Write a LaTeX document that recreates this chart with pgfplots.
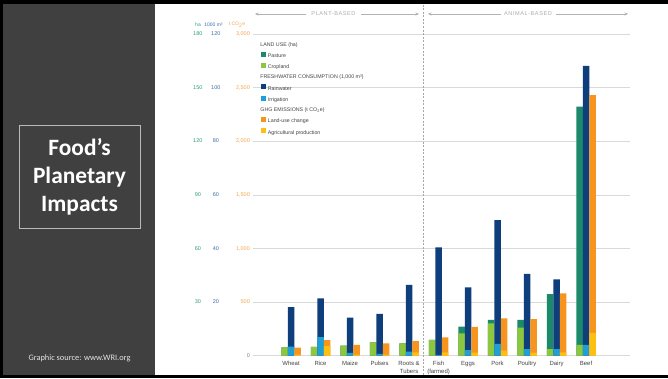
\documentclass[border=0pt]{standalone}
\usepackage{pgfplots}
\pgfplotsset{compat=1.18}
\usepackage{pgfplotstable}
\usepackage{fontspec}
\setmainfont{Liberation Sans}
\newfontfamily\carlito{Carlito}
\usetikzlibrary{arrows.meta}

\definecolor{pasture}{HTML}{1B8A6B}
\definecolor{cropland}{HTML}{8DC63F}
\definecolor{rainwater}{HTML}{0E3F7C}
\definecolor{irrigation}{HTML}{1E9FD6}
\definecolor{luc}{HTML}{F7941D}
\definecolor{agri}{HTML}{FDC010}
\definecolor{hacol}{HTML}{2E9E7E}
\definecolor{wcol}{HTML}{3A6EA5}
\definecolor{ccol}{HTML}{F5A54A}
\definecolor{panel}{HTML}{404040}
\definecolor{txt}{HTML}{444444}

% land use in ha, water in 1,000 m3, GHG in t CO2e
\pgfplotstableread{
x crop past irr rain agri luc
0 4.7 0 3.4 14.7 10 65
1 5.0 0 6.9 14.5 90 56
2 5.6 0 1.1 13.1 10 90
3 7.5 0 0.7 14.9 10 104
4 6.9 0 1.5 24.9 30 107
5 8.8 0 0.3 40.1 30 142
6 12.5 3.8 2.1 23.4 28 240
7 18.1 1.9 4.4 46.2 47 302
8 15.7 4.3 2.5 28.0 28 314
9 3.7 30.7 2.5 26.0 32 550
10 6.0 133.3 4.0 104.1 214 2217
}\data

\newcommand\tl[3]{\makebox[20bp][c]{\color{hacol}#1}\makebox[16bp][c]{\color{wcol}#2}\makebox[26bp][r]{\color{ccol}#3}}

\begin{document}
\begin{tikzpicture}[x=1bp,y=1bp]
\useasboundingbox (0,0) rectangle (668,378);
\fill[white] (0,0) rectangle (668,378);
\fill[panel] (3,3) rectangle (155,374);
\fill[black] (0,374) rectangle (668,378);
\fill[black] (0,0) rectangle (668,3);
\fill[black] (0,0) rectangle (3,378);
\draw[gray!55, line width=0.6bp] (19,253) rectangle (140,150);
\node[white, align=center, font=\carlito\bfseries\fontsize{23.5}{28}\selectfont] at (79.5,201.5) {Food’s\\Planetary\\Impacts};
\node[gray!20, font=\carlito\fontsize{8.4}{10}\selectfont] at (79.5,20) {Graphic source: www.WRI.org};

% header arrows
\begin{scope}[gray!60, line width=0.6bp]
\draw[-{Stealth[length=3.5bp,width=3bp]}] (306,364) -- (255,364);
\draw[-{Stealth[length=3.5bp,width=3bp]}] (361,364) -- (419,364);
\draw[-{Stealth[length=3.5bp,width=3bp]}] (501,364) -- (428,364);
\draw[-{Stealth[length=3.5bp,width=3bp]}] (556,364) -- (628,364);
\end{scope}
\node[gray!65, font=\addfontfeature{LetterSpace=10}\fontsize{5.6}{6}\selectfont] at (333.5,364) {PLANT-BASED};
\node[gray!65, font=\addfontfeature{LetterSpace=10}\fontsize{5.6}{6}\selectfont] at (528,364) {ANIMAL-BASED};

% unit header
\node[hacol, font=\fontsize{5}{6}\selectfont] at (198,353) {ha};
\node[wcol, font=\fontsize{5}{6}\selectfont] at (213.5,353) {1000 m³};
\node[ccol, font=\fontsize{5}{6}\selectfont] at (237,353) {t CO\textsubscript{2}e};

\begin{axis}[
  at={(253bp,22.3bp)}, anchor=south west,
  scale only axis, width=377bp, height=321.7bp,
  xmin=-1.29, xmax=11.49, ymin=0, ymax=3000,
  axis line style={draw=none}, tick style={draw=none},
  ymajorgrids, grid style={gray!30, line width=0.6bp},
  ytick={0,500,1000,1500,2000,2500,3000},
  yticklabels={{\tl{}{}{\color{gray}0}},{\tl{30}{20}{500}},{\tl{60}{40}{1,000}},{\tl{90}{60}{1,500}},{\tl{120}{80}{2,000}},{\tl{150}{100}{2,500}},{\tl{180}{120}{3,000}}},
  yticklabel style={anchor=east, inner sep=0pt, xshift=-3bp, font=\fontsize{5.5}{6}\selectfont},
  xtick={0,...,10},
  xticklabels={Wheat,Rice,Maize,Pulses,{Roots \&\\Tubers},{Fish\\(farmed)},Eggs,Pork,Poultry,Dairy,Beef},
  xticklabel style={anchor=north, inner sep=0pt, yshift=-5.5bp, align=center, text=txt, font=\fontsize{6}{7.6}\selectfont},
  /pgf/number format/assume math mode=true,
  legend style={draw=none, fill=none, at={(0.0212,0.978)}, anchor=north west,
    font=\fontsize{5.3}{6}\selectfont, text=txt, row sep=3.6bp, column sep=1.5bp, inner sep=0pt,
    nodes={inner sep=0.8bp, text height=4bp, text depth=1.2bp},
    cells={anchor=west}},
  legend image code/.code={\fill[#1] (0bp,0bp) rectangle (4bp,4bp);},
  bar width=6.5bp,
]
% land use
\addplot[ybar, bar shift=-6.5bp, fill=pasture, draw=none, forget plot] table[x=x, y expr={(\thisrow{crop}+\thisrow{past})*3000/180}] {\data};
\addplot[ybar, bar shift=-6.5bp, fill=cropland, draw=none, forget plot] table[x=x, y expr={\thisrow{crop}*3000/180}] {\data};
% water
\addplot[ybar, bar shift=0bp, fill=rainwater, draw=none, forget plot] table[x=x, y expr={(\thisrow{irr}+\thisrow{rain})*25}] {\data};
\addplot[ybar, bar shift=0bp, fill=irrigation, draw=none, forget plot] table[x=x, y expr={\thisrow{irr}*25}] {\data};
% GHG
\addplot[ybar, bar shift=6.5bp, fill=luc, draw=none, forget plot] table[x=x, y expr={\thisrow{agri}+\thisrow{luc}}] {\data};
\addplot[ybar, bar shift=6.5bp, fill=agri, draw=none, forget plot] table[x=x, y=agri] {\data};

\addlegendimage{empty legend}\addlegendentry{\hspace*{-7.5bp}LAND USE (ha)}
\addlegendimage{pasture}\addlegendentry{Pasture}
\addlegendimage{cropland}\addlegendentry{Cropland}
\addlegendimage{empty legend}\addlegendentry{\hspace*{-7.5bp}FRESHWATER CONSUMPTION (1,000 m³)}
\addlegendimage{rainwater}\addlegendentry{Rainwater}
\addlegendimage{irrigation}\addlegendentry{Irrigation}
\addlegendimage{empty legend}\addlegendentry{\hspace*{-7.5bp}GHG EMISSIONS (t CO\textsubscript{2}e)}
\addlegendimage{luc}\addlegendentry{Land-use change}
\addlegendimage{agri}\addlegendentry{Agricultural production}
\end{axis}

\draw[gray!70, line width=1.6bp, dash pattern=on 2bp off 1.5bp] (423.5,373) -- (423.5,3);
\end{tikzpicture}
\end{document}
